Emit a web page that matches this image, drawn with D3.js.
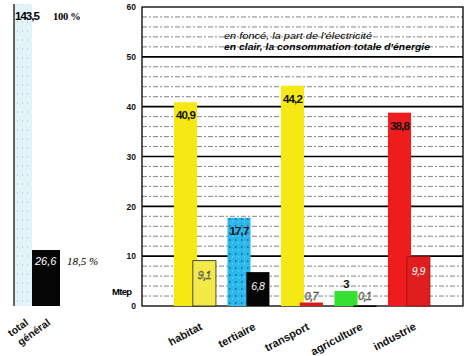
<!DOCTYPE html>
<html><head><meta charset="utf-8">
<script src="https://cdn.jsdelivr.net/npm/d3@7/dist/d3.min.js"></script>
<style>
html,body{margin:0;padding:0;background:#fff;}
svg{display:block;}
</style></head>
<body>
<svg id="chart" width="470" height="356"></svg>
<script>
const categories = ["habitat","tertiaire","transport","agriculture","industrie"];
const totalValues = [40.9,17.7,44.2,3,38.8];
const elecValues = [9.1,6.8,0.7,0.1,9.9];
const totalLabels = ["40,9","17,7","44,2","3","38,8"];
const elecLabels = ["9,1","6,8","0,7","0,1","9,9"];
const yTicks = [0,10,20,30,40,50,60];
const overallValues = [143.5,26.6];
const overallLabels = ["143,5","26,6"];
const overallShares = ["100 %","18,5 %"];
const overallNames = ["total","général"];
const legendLines = ["en foncé, la part de l'électricité","en clair, la consommation totale d'énergie"];

const lightColors = ["#f6e812","url(#speck)","#f6e812","#36e030","#ee1c1c"];
const darkColors = ["#f3ea48","#050505","#d91c1c","#0a0a0a","#e11e1e"];

const svg = d3.select("#chart");
const defs = svg.append("defs");
const pat = defs.append("pattern").attr("id","speck").attr("width",6).attr("height",7)
  .attr("patternUnits","userSpaceOnUse");
pat.append("rect").attr("width",6).attr("height",7).attr("fill","#2cb8ea");
pat.append("rect").attr("x",1).attr("y",1).attr("width",1.5).attr("height",2).attr("fill","#1478b8");
pat.append("rect").attr("x",4).attr("y",4).attr("width",1).attr("height",1.5).attr("fill","#6ad8f6");
const pat2 = defs.append("pattern").attr("id","pale").attr("width",5).attr("height",9)
  .attr("patternUnits","userSpaceOnUse");
pat2.append("rect").attr("width",5).attr("height",9).attr("fill","#e4f3f8");
pat2.append("rect").attr("x",2).attr("y",3).attr("width",1).attr("height",2).attr("fill","#b8dcea");

const plotL = 142, plotR = 463;
const y = d3.scaleLinear().domain([0,60]).range([306,7]);
const x = d3.scaleBand().domain(categories).range([168.6,435.3]).paddingInner(0.215).paddingOuter(0.1);
const bw = x.bandwidth();

// grid: dashed every 2, solid every 10
const minor = d3.range(2,60,2).filter(v => v % 10 !== 0);
svg.append("g").selectAll("line").data(minor).join("line")
  .attr("x1",plotL).attr("x2",plotR).attr("y1",d=>y(d)).attr("y2",d=>y(d))
  .attr("stroke","#333").attr("stroke-width",0.6).attr("stroke-dasharray","5,2,2,2");
svg.append("g").selectAll("line").data(yTicks.filter(v=>v>0&&v<60)).join("line")
  .attr("x1",plotL).attr("x2",plotR).attr("y1",d=>y(d)).attr("y2",d=>y(d))
  .attr("stroke","#000").attr("stroke-width",1.6);
// frame
svg.append("rect").attr("x",plotL).attr("y",y(60)).attr("width",plotR-plotL).attr("height",y(0)-y(60))
  .attr("fill","none").attr("stroke","#000").attr("stroke-width",1.3);

// y axis labels
const axis = d3.axisLeft(y).tickValues(yTicks).tickSize(0).tickPadding(6).tickFormat(d3.format("d"));
const ag = svg.append("g").attr("transform",`translate(${plotL},0)`).call(axis);
ag.select(".domain").remove();
ag.selectAll("text").attr("font-family","Liberation Sans, Arial, sans-serif").attr("font-weight","bold")
  .attr("font-size",8.5).attr("fill","#111");
svg.append("text").attr("x",112).attr("y",295).text("Mtep")
  .attr("font-family","Liberation Sans, Arial, sans-serif").attr("font-weight","bold")
  .attr("font-size",9.5).attr("letter-spacing",-0.7);

// bars
const idx = d3.range(categories.length);
const lightW = bw*0.55, darkOff = bw*0.45, darkW = bw*0.55;
svg.append("g").selectAll("rect").data(idx).join("rect")
  .attr("x",i=>x(categories[i])).attr("y",i=>y(totalValues[i]))
  .attr("width",lightW).attr("height",i=>y(0)-y(totalValues[i]))
  .attr("fill",i=>lightColors[i]);
svg.append("g").selectAll("rect").data(idx).join("rect")
  .attr("x",i=>x(categories[i])+darkOff).attr("y",i=>y(elecValues[i]))
  .attr("width",darkW).attr("height",i=>Math.max(1.5,y(0)-y(elecValues[i])))
  .attr("fill",i=>darkColors[i])
  .attr("stroke",(d,i)=> i===0 ? "#222" : (i===4 ? "#a01010" : "none"))
  .attr("stroke-width",0.8);

const numFont = "Liberation Sans Narrow, Liberation Sans, Arial, sans-serif";
svg.append("g").selectAll("text").data(idx).join("text")
  .attr("x",i=>x(categories[i])+lightW/2)
  .attr("y",i=> totalValues[i] < 5 ? y(totalValues[i])-3 : y(totalValues[i])+17)
  .attr("text-anchor","middle").attr("font-family",numFont).attr("font-weight","bold")
  .attr("font-size",11.5).attr("letter-spacing",-0.9).attr("fill","#111")
  .text(i=>totalLabels[i]);
svg.append("g").selectAll("text").data(idx).join("text")
  .attr("x",i=>x(categories[i])+darkOff+darkW/2)
  .attr("y",i=> elecValues[i] < 2 ? y(0)-6 : y(elecValues[i])+18)
  .attr("text-anchor","middle").attr("font-family",numFont).attr("font-style","italic")
  .attr("font-size",10.5).attr("letter-spacing",-0.5)
  .attr("fill",i=> i===0 || elecValues[i] < 2 ? "#fbf8d0" : "#fff")
  .attr("stroke",i=> i===0 || elecValues[i] < 2 ? "#333" : "none").attr("stroke-width",0.5)
  .text(i=>elecLabels[i]);

// category labels
svg.append("g").selectAll("text").data(idx).join("text")
  .attr("transform",i=>`translate(${x(categories[i])+bw/2+8},${329}) rotate(-28)`)
  .attr("text-anchor","end").attr("font-family","Liberation Sans, Arial, sans-serif")
  .attr("font-weight","bold").attr("font-size",11).attr("fill","#111")
  .text(i=>categories[i]);

// legend
svg.append("g").selectAll("text").data(legendLines).join("text")
  .attr("x",224).attr("y",(d,i)=>39+i*10.5)
  .attr("font-family","Liberation Sans, Arial, sans-serif").attr("font-style","italic")
  .attr("font-weight",(d,i)=> i===0 ? "normal" : "bold").attr("font-size",9)
  .attr("textLength",(d,i)=> i===0 ? 148 : 206).attr("lengthAdjust","spacingAndGlyphs")
  .text(d=>d);

// total général
const yT = d3.scaleLinear().domain([0,overallValues[0]]).range([306,4]);
const tx = [14,32], tw = [18,28];
svg.append("rect").attr("x",tx[0]).attr("y",yT(overallValues[0])).attr("width",tw[0])
  .attr("height",yT(0)-yT(overallValues[0])).attr("fill","url(#pale)");
svg.append("line").attr("x1",tx[0]).attr("x2",tx[0]).attr("y1",yT(overallValues[0])).attr("y2",yT(0))
  .attr("stroke","#000").attr("stroke-width",1.2);
svg.append("rect").attr("x",tx[1]).attr("y",yT(overallValues[1])).attr("width",tw[1])
  .attr("height",yT(0)-yT(overallValues[1])).attr("fill","#050505");
svg.append("text").attr("x",15).attr("y",yT(overallValues[0])+16).text(overallLabels[0])
  .attr("font-family",numFont).attr("font-weight","bold").attr("font-size",11.5).attr("letter-spacing",-1);
svg.append("text").attr("x",53).attr("y",yT(overallValues[0])+16).text(overallShares[0])
  .attr("font-family","Liberation Serif, serif").attr("font-weight","bold").attr("font-size",10.5).attr("letter-spacing",-0.3);
svg.append("text").attr("x",35).attr("y",yT(overallValues[1])+15).text(overallLabels[1])
  .attr("font-family",numFont).attr("font-style","italic").attr("font-size",11).attr("fill","#fff");
svg.append("text").attr("x",67).attr("y",yT(overallValues[1])+15).text(overallShares[1])
  .attr("font-family","Liberation Serif, serif").attr("font-style","italic").attr("font-size",11);
svg.append("g").selectAll("text").data(overallNames).join("text")
  .attr("transform",(d,i)=>`translate(${i===0?29:51},${i===0?324:324}) rotate(-36)`)
  .attr("text-anchor","end").attr("font-family","Liberation Sans, Arial, sans-serif")
  .attr("font-weight","bold").attr("font-size",10.5).attr("fill","#111")
  .text(d=>d);
</script>
</body></html>
